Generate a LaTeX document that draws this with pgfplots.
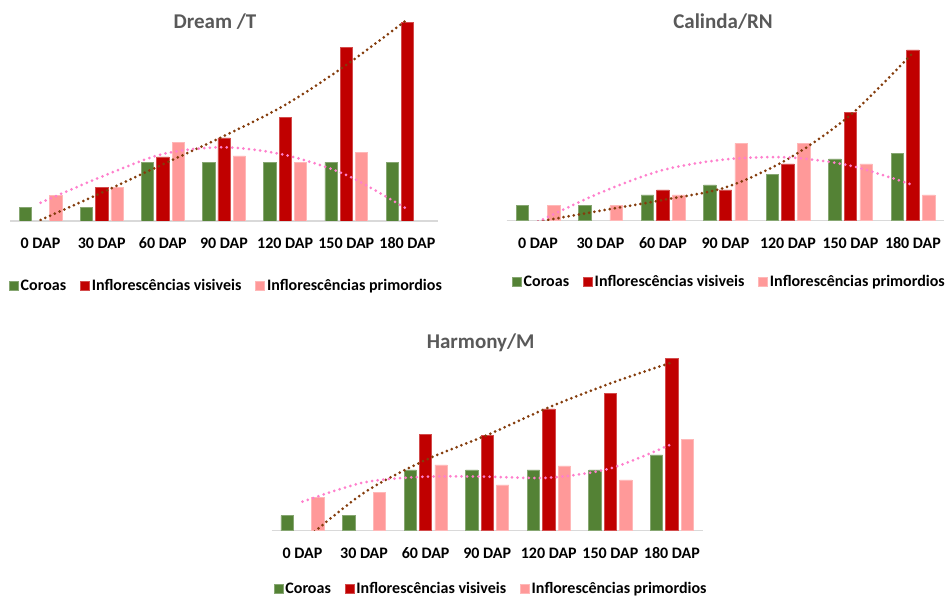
\documentclass[border=0pt]{standalone}
\usepackage{fontspec}
\setmainfont{Carlito}
\usepackage{pgfplots}
\pgfplotsset{compat=1.18}
\definecolor{cgreen}{HTML}{548235}
\definecolor{cred}{HTML}{C00000}
\definecolor{cpink}{HTML}{FF9999}
\definecolor{tbrown}{HTML}{843C0C}
\definecolor{tpink}{HTML}{FF7FCC}
\definecolor{ttl}{HTML}{595959}
\definecolor{axg}{HTML}{D9D9D9}
\pgfplotsset{
  sqleg/.style={legend image code/.code={\fill[##1] (0bp,-4.5bp) rectangle (9bp,4.5bp);}},
  dapaxis/.style={
    scale only axis, xmin=-0.5, xmax=6.5, ymin=0,
    axis x line*=bottom, axis y line=none,
    x axis line style={axg, line width=1.6bp},
    xtick={0,...,6},
    xticklabels={0 DAP,30 DAP,60 DAP,90 DAP,120 DAP,150 DAP,180 DAP},
    major tick length=0pt, xtick style={draw=none},
    xticklabel style={font=\fontsize{16bp}{19bp}\selectfont\bfseries, anchor=center, yshift=-22.5bp},
    legend columns=3,
    legend style={draw=none, fill=none, font=\fontsize{16bp}{19bp}\selectfont\bfseries,
      anchor=center, inner sep=0pt, nodes={inner sep=2bp},
      /tikz/every even column/.append style={column sep=12bp}},
    legend cell align=left,
  },
  gbar/.style={ybar, bar width=0.2, bar shift=-0.25, fill=cgreen, draw=cgreen!70!white, line width=0.6bp, sqleg},
  rbar/.style={ybar, bar width=0.2, bar shift=0, fill=cred, draw=cred!70!white, line width=0.6bp, sqleg},
  pbar/.style={ybar, bar width=0.2, bar shift=0.25, fill=cpink, draw=cpink!70!white, line width=0.6bp, sqleg},
  trb/.style={no markers, smooth, tbrown, line width=3bp, line cap=round, dash pattern=on 0bp off 5.2bp, forget plot},
  trp/.style={no markers, smooth, tpink, line width=3bp, line cap=round, dash pattern=on 0bp off 5.6bp, forget plot},
}
\begin{document}
\begin{tikzpicture}
\useasboundingbox (0bp,0bp) rectangle (950bp,597bp);
% ---------------- Dream /T
\begin{axis}[dapaxis, at={(10bp,376bp)}, anchor=south west, width=428bp, height=206bp, ymax=206,
  legend style={at={(0.5,0)}, yshift=-65bp, xshift=2.5bp}]
\addplot[gbar] coordinates {(0,13.7) (1,13.7) (2,58.7) (3,58.7) (4,58.7) (5,58.7) (6,58.7)};
\addlegendentry{Coroas}
\addplot[rbar] coordinates {(1,33.7) (2,64) (3,83) (4,103.7) (5,173.7) (6,198.7)};
\addlegendentry{Inflorescências visiveis}
\addplot[pbar] coordinates {(0,25.7) (1,33.7) (2,78.7) (3,65) (4,58.7) (5,68.7)};
\addlegendentry{Inflorescências primordios}
\addplot[trb] coordinates {(0,1) (1,28.3) (2,56.7) (3,85) (4,116) (5,156) (6,201.7)};
\addplot[trp] coordinates {(0,18.3) (1,44.3) (2,67) (3,73.7) (4,66) (5,46) (6,11.7)};
\end{axis}
% ---------------- Calinda/RN
\begin{axis}[dapaxis, at={(506.7bp,376.3bp)}, anchor=south west, width=437.5bp, height=190bp, ymax=190,
  legend style={at={(0.5,0)}, yshift=-61bp, xshift=4bp}]
\addplot[gbar] coordinates {(0,15) (1,15) (2,25.7) (3,35.7) (4,46.3) (5,61.7) (6,67)};
\addlegendentry{Coroas}
\addplot[rbar] coordinates {(2,30.7) (3,30.7) (4,56.7) (5,108.3) (6,170.7)};
\addlegendentry{Inflorescências visiveis}
\addplot[pbar] coordinates {(0,15) (1,15) (2,25.7) (3,77.3) (4,77.3) (5,56.7) (6,25.7)};
\addlegendentry{Inflorescências primordios}
\addplot[trb] coordinates {(0,-1) (1,10) (2,20.7) (3,33.3) (4,61.7) (5,105.7) (6,168)};
\addplot[trp] coordinates {(0,-1) (1,28) (2,50.7) (3,61.3) (4,63.3) (5,55) (6,35.7)};
\end{axis}
% ---------------- Harmony/M
\begin{axis}[dapaxis, at={(271.7bp,66.3bp)}, anchor=south west, width=431bp, height=185bp, ymax=185,
  legend style={at={(0.5,0)}, yshift=-58bp, xshift=4bp}]
\addplot[gbar] coordinates {(0,15) (1,15) (2,60.7) (3,60.7) (4,60.7) (5,60.7) (6,75.7)};
\addlegendentry{Coroas}
\addplot[rbar] coordinates {(2,96.3) (3,95) (4,121.7) (5,137.3) (6,172.3)};
\addlegendentry{Inflorescências visiveis}
\addplot[pbar] coordinates {(0,33.3) (1,38) (2,65.7) (3,45.7) (4,64.7) (5,50.7) (6,91.3)};
\addlegendentry{Inflorescências primordios}
\addplot[trb] coordinates {(0,-11) (1,38) (2,70.7) (3,95.7) (4,123.3) (5,147.3) (6,168.3)};
\addplot[trp] coordinates {(0,29) (1,48.3) (2,54) (3,54) (4,53) (5,62.3) (6,86.7)};
\end{axis}
% ---------------- titles
\node[font=\fontsize{21bp}{25bp}\selectfont\bfseries, text=ttl] at (215bp,575bp) {Dream /T};
\node[font=\fontsize{21bp}{25bp}\selectfont\bfseries, text=ttl] at (723bp,575bp) {Calinda/RN};
\node[font=\fontsize{21bp}{25bp}\selectfont\bfseries, text=ttl] at (480.7bp,254bp) {Harmony/M};
\end{tikzpicture}
\end{document}
